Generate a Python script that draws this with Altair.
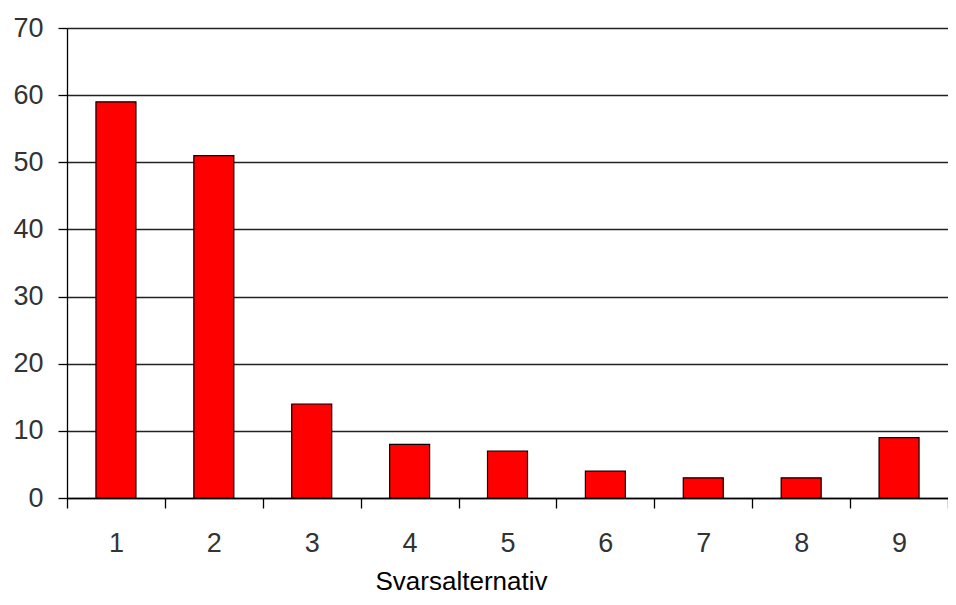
import altair as alt
import pandas as pd

categories = ["1", "2", "3", "4", "5", "6", "7", "8", "9"]
values = [59, 51, 14, 8, 7, 4, 3, 3, 9]
y_ticks = [0, 10, 20, 30, 40, 50, 60, 70]

df = pd.DataFrame({"alt": categories, "count": values})

label_font = "Liberation Sans"

chart = alt.Chart(df).mark_bar(
    size=40, color="#ff0000", stroke="#000000", strokeWidth=1.2
).encode(
    x=alt.X(
        "alt:N",
        sort=categories,
        scale=alt.Scale(paddingInner=0, paddingOuter=0),
        axis=alt.Axis(
            title="Svarsalternativ",
            labelAngle=0,
            tickBand="extent",
            tickSize=10,
            tickColor="#000000",
            tickWidth=1.3,
            domainColor="#000000",
            domainWidth=1.3,
            labelPadding=22,
            labelFont=label_font,
            labelFontSize=27,
            labelColor="#333333",
            titleFont="Liberation Sans",
            titleFontSize=26,
            titleFontWeight="normal",
            titleColor="#000000",
            titleX=394,
            titleY=91,
            titleBaseline="alphabetic",
            titleAnchor="start",
            titleAlign="center",
            grid=False,
        ),
    ),
    y=alt.Y(
        "count:Q",
        scale=alt.Scale(domain=[0, 70], nice=False),
        axis=alt.Axis(
            title=None,
            values=y_ticks,
            tickSize=9,
            tickColor="#000000",
            tickWidth=1.3,
            domainColor="#000000",
            domainWidth=1.3,
            grid=True,
            gridColor="#222222",
            gridWidth=1.3,
            labelPadding=15,
            labelFont=label_font,
            labelFontSize=27,
            labelColor="#333333",
        ),
    ),
).properties(
    width=881,
    height=470,
    autosize=alt.AutoSizeParams(type="none"),
    padding={"left": 59, "top": 20, "right": 0, "bottom": 99},
).configure_view(
    strokeWidth=0
).configure(background="#ffffff")

chart.save("out.html", embed_options={"renderer": "svg", "actions": False})
